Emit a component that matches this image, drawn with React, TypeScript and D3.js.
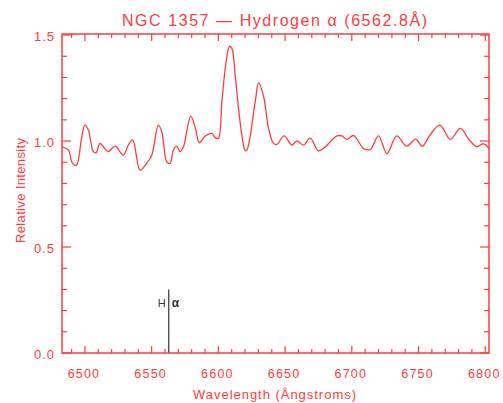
import React from "react";
import * as d3 from "d3";

// spectrum
const wavelength = [
  6482.8, 6487.5, 6490.1, 6491.8, 6493.8, 6497.6, 6500.0, 6502.5, 6506.3, 6508.3,
  6511.3, 6513.8, 6517.5, 6522.5, 6528.8, 6532.5, 6535.8, 6541.3, 6546.3, 6550.1,
  6555.0, 6557.6, 6561.3, 6563.8, 6566.3, 6568.8, 6571.3, 6573.8, 6579.3, 6582.5,
  6585.8, 6590.1, 6595.1, 6597.6, 6600.0, 6602.6, 6605.8, 6608.3, 6610.1, 6612.6,
  6615.1, 6617.6, 6620.1, 6621.4, 6627.6, 6630.1, 6633.8, 6637.6, 6641.3, 6643.8,
  6649.3, 6655.1, 6658.8, 6663.8, 6668.8, 6675.0, 6680.0, 6688.8, 6692.6, 6696.3,
  6701.3, 6708.8, 6713.8, 6720.0, 6726.3, 6733.7, 6741.0, 6747.9, 6752.8, 6758.8,
  6766.1, 6773.8, 6781.3, 6788.0, 6793.8, 6797.6, 6800.1, 6802.7,
];
const intensity = [
  0.973, 0.958, 0.902, 0.887, 0.887, 1.02, 1.075, 1.052, 0.95, 0.945,
  0.989, 0.973, 0.95, 0.976, 0.934, 0.981, 1.005, 0.863, 0.895, 0.934,
  1.075, 1.044, 0.902, 0.895, 0.958, 0.976, 0.95, 0.973, 1.118, 1.067,
  0.992, 1.024, 1.036, 1.016, 1.013, 1.185, 1.374, 1.447, 1.437, 1.311,
  1.154, 1.028, 0.955, 0.958, 1.185, 1.274, 1.212, 1.06, 0.989, 0.984,
  1.024, 0.981, 1.001, 0.981, 1.014, 0.954, 0.972, 1.024, 1.024, 1.008,
  1.026, 0.965, 0.96, 1.024, 0.941, 1.024, 0.976, 1.009, 0.976, 1.031,
  1.075, 1.008, 1.06, 1.005, 0.973, 0.986, 0.983, 0.966,
];

const xMajor = [6500, 6550, 6600, 6650, 6700, 6750, 6800];
const xMinor = d3.range(6490, 6801, 10);
const yMajor = [0, 0.5, 1.0, 1.5];
const yMinor = d3.range(0, 1.51, 0.1);

const hAlpha = 6562.8;
const markerTop = 0.3;

const RED = "#ff3c3c";
const FONT = "'Liberation Sans', Arial, sans-serif";

const App = () => {
  const width = 503;
  const height = 403;
  const left = 62;
  const right = 489;
  const top = 34;
  const bottom = 353;

  const x = d3.scaleLinear().domain([6482.8, 6802.8]).range([left, right]);
  const y = d3.scaleLinear().domain([0, 1.505]).range([bottom, top]);

  const pts = wavelength.map((w, i) => [w, intensity[i]] as [number, number]);
  const line = d3
    .line<[number, number]>()
    .x((d) => x(d[0]))
    .y((d) => y(d[1]))
    .curve(d3.curveCatmullRom.alpha(0.5));

  const isMajorX = (v: number) => xMajor.includes(v);
  const isMajorY = (v: number) => yMajor.some((m) => Math.abs(m - v) < 1e-6);

  return (
    <svg
      width={width}
      height={height}
      style={{ position: "absolute", left: 0, top: 0, background: "#fff" }}
      fontFamily={FONT}
    >
      {/* title */}
      <text
        x={274.5}
        y={26}
        textAnchor="middle"
        fill={RED}
        fontSize={16}
        textLength={305}
        lengthAdjust="spacing"
      >
        NGC 1357 — Hydrogen α (6562.8Å)
      </text>

      {/* spectrum */}
      <path d={line(pts) ?? ""} fill="none" stroke={RED} strokeWidth={1.3} />

      {/* H-alpha marker */}
      <line
        x1={x(hAlpha)}
        x2={x(hAlpha)}
        y1={y(0)}
        y2={y(markerTop)}
        stroke="#333"
        strokeWidth={1.2}
      />
      <text x={x(hAlpha) - 3} y={y(0.215)} textAnchor="end" fontSize={11} fill="#333">
        H
      </text>
      <text x={x(hAlpha) + 3} y={y(0.215)} fontSize={12} fill="#333" fontWeight="bold">
        α
      </text>

      {/* frame */}
      <rect
        x={left}
        y={top}
        width={right - left}
        height={bottom - top}
        fill="none"
        stroke={RED}
        strokeWidth={1.5}
      />

      {/* x ticks (bottom and top) */}
      {xMinor.map((v) => {
        const len = isMajorX(v) ? 7 : 4;
        return (
          <g key={"x" + v} stroke={RED} strokeWidth={1.2}>
            <line x1={x(v)} x2={x(v)} y1={bottom} y2={bottom - len} />
            <line x1={x(v)} x2={x(v)} y1={top} y2={top + len} />
          </g>
        );
      })}
      {xMajor.map((v) => (
        <text
          key={"xl" + v}
          x={x(v) - 1}
          y={378}
          textAnchor="middle"
          fill={RED}
          fontSize={12.5}
          letterSpacing={1.2}
        >
          {v}
        </text>
      ))}

      {/* y ticks (left and right) */}
      {yMinor.map((v) => {
        const len = isMajorY(v) ? 9 : 5;
        return (
          <g key={"y" + v.toFixed(1)} stroke={RED} strokeWidth={1.2}>
            <line x1={left} x2={left + len} y1={y(v)} y2={y(v)} />
            <line x1={right} x2={right - len} y1={y(v)} y2={y(v)} />
          </g>
        );
      })}
      {yMajor.map((v) => (
        <text
          key={"yl" + v}
          x={55}
          y={y(v) + 6}
          textAnchor="end"
          fill={RED}
          fontSize={13}
          letterSpacing={1}
        >
          {d3.format(".1f")(v)}
        </text>
      ))}

      {/* axis titles */}
      <text
        x={274.5}
        y={399}
        textAnchor="middle"
        fill={RED}
        fontSize={13}
        textLength={163}
        lengthAdjust="spacing"
      >
        Wavelength (Ångstroms)
      </text>
      <text
        transform="translate(24.5,190.5) rotate(-90)"
        textAnchor="middle"
        fill={RED}
        fontSize={13}
        textLength={105}
        lengthAdjust="spacing"
      >
        Relative Intensity
      </text>
    </svg>
  );
};

export default App;
